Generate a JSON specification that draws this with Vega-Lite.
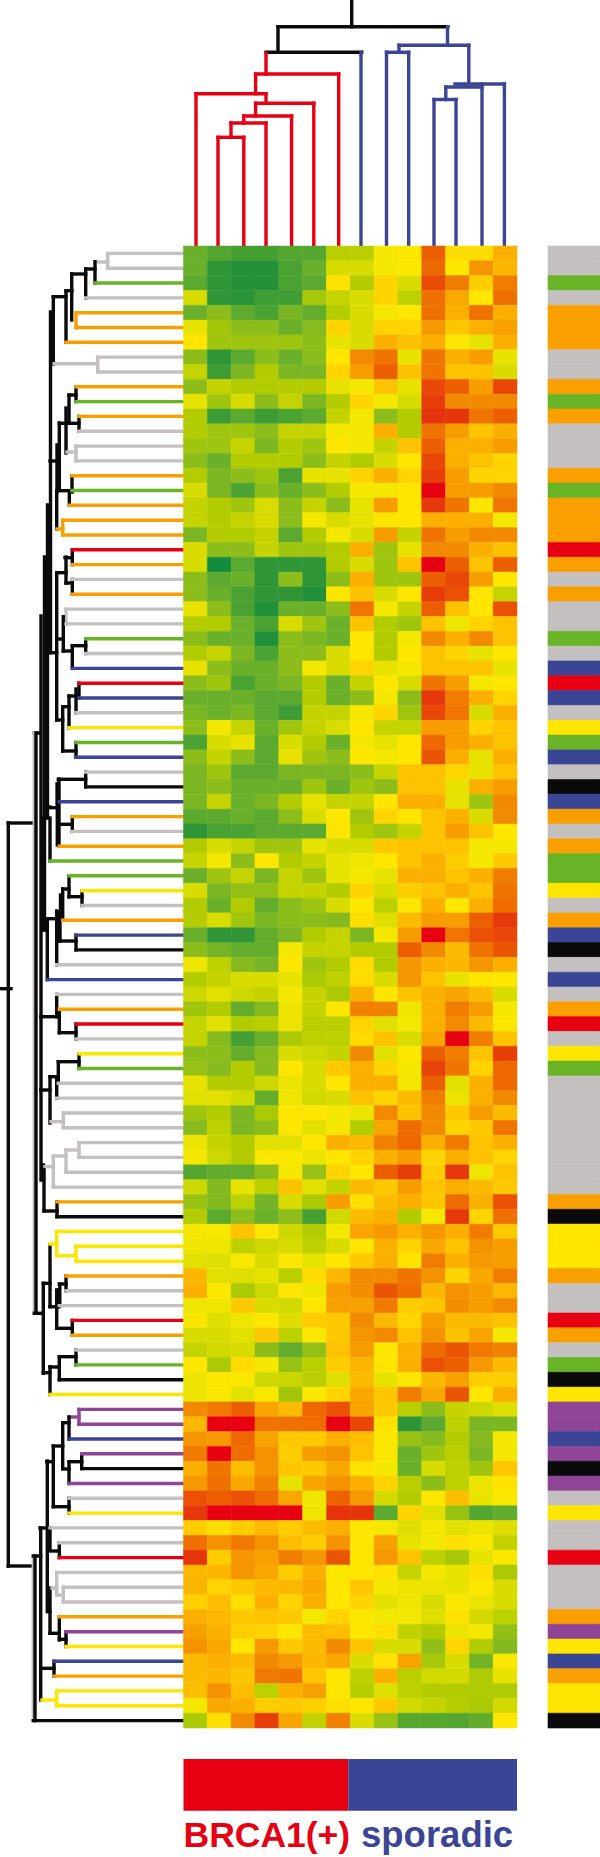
{"$schema":"https://vega.github.io/schema/vega-lite/v6.json","width":600,"height":1857,"padding":0,"autosize":"none","background":"white","datasets":{"tree":[
{"a":351.7,"b":0,"p":351.7,"q":26.7,"k":"black"},{"a":278,"b":26.7,"p":447.8,"q":26.7,"k":"black"},{"a":278,"b":26.7,"p":278,"q":52.3,"k":"black"},{"a":266,"b":52.3,"p":361.7,"q":52.3,"k":"black"},
{"a":447.5,"b":26.7,"p":447.5,"q":45.3,"k":"blue"},{"a":361,"b":52.3,"p":361,"q":246,"k":"blue"},
{"a":266,"b":53,"p":266,"q":74,"k":"red"},{"a":255.6,"b":74,"p":338.7,"q":74,"k":"red"},{"a":338.7,"b":74,"p":338.7,"q":246,"k":"red"},{"a":255.6,"b":74,"p":255.6,"q":93.7,"k":"red"},{"a":196,"b":93.7,"p":266,"q":93.7,"k":"red"},{"a":196,"b":93.7,"p":196,"q":246,"k":"red"},{"a":266,"b":93.7,"p":266,"q":103.3,"k":"red"},{"a":255.6,"b":103.3,"p":313.8,"q":103.3,"k":"red"},{"a":313.8,"b":103.3,"p":313.8,"q":246,"k":"red"},{"a":255.6,"b":103.3,"p":255.6,"q":116,"k":"red"},{"a":243.8,"b":116,"p":291.6,"q":116,"k":"red"},{"a":291.6,"b":116,"p":291.6,"q":246,"k":"red"},{"a":243.8,"b":116,"p":243.8,"q":123,"k":"red"},{"a":231,"b":123,"p":266,"q":123,"k":"red"},{"a":266,"b":123,"p":266,"q":246,"k":"red"},{"a":231,"b":123,"p":231,"q":137.3,"k":"red"},{"a":218,"b":137.3,"p":243.8,"q":137.3,"k":"red"},{"a":218,"b":137.3,"p":218,"q":246,"k":"red"},{"a":243.8,"b":137.3,"p":243.8,"q":246,"k":"red"},
{"a":399,"b":45.3,"p":468.8,"q":45.3,"k":"blue"},{"a":399,"b":45.3,"p":399,"q":52.3,"k":"blue"},{"a":386.5,"b":52.3,"p":408.7,"q":52.3,"k":"blue"},{"a":386.5,"b":52.3,"p":386.5,"q":246,"k":"blue"},{"a":408.7,"b":52.3,"p":408.7,"q":246,"k":"blue"},{"a":468.8,"b":45.3,"p":468.8,"q":84,"k":"blue"},{"a":455,"b":84,"p":504.4,"q":84,"k":"blue"},{"a":504.4,"b":84,"p":504.4,"q":246,"k":"blue"},{"a":445.8,"b":87,"p":482,"q":87,"k":"blue"},{"a":482,"b":84,"p":482,"q":246,"k":"blue"},{"a":445.8,"b":87,"p":445.8,"q":99.5,"k":"blue"},{"a":434,"b":99.5,"p":456,"q":99.5,"k":"blue"},{"a":434,"b":99.5,"p":434,"q":246,"k":"blue"},{"a":456,"b":99.5,"p":456,"q":246,"k":"blue"},
{"a":95,"b":262,"p":107.7,"q":262,"k":"gray"},{"a":107.7,"b":253.4,"p":107.7,"q":268.2,"k":"gray"},{"a":95,"b":261.7,"p":95,"q":283,"k":"black"},{"a":85.7,"b":269,"p":95,"q":269,"k":"black"},{"a":85.7,"b":269,"p":85.7,"q":297.9,"k":"black"},{"a":71.7,"b":274,"p":85.7,"q":274,"k":"black"},{"a":71.7,"b":274,"p":71.7,"q":320,"k":"black"},{"a":76,"b":312.7,"p":76,"q":327.5,"k":"orange"},{"a":66,"b":290.7,"p":72,"q":290.7,"k":"black"},{"a":66,"b":290.7,"p":66,"q":342.3,"k":"black"},{"a":53.3,"b":296.7,"p":66,"q":296.7,"k":"black"},{"a":53.3,"b":296.7,"p":53.3,"q":364,"k":"black"},{"a":54,"b":363.7,"p":97.7,"q":363.7,"k":"gray"},{"a":97.7,"b":357.1,"p":97.7,"q":372,"k":"gray"},
{"a":50.5,"b":312,"p":50.5,"q":652.7,"k":"black"},{"a":47.5,"b":505,"p":47.5,"q":818,"k":"black"},{"a":44.5,"b":557,"p":44.5,"q":930,"k":"black"},{"a":41,"b":616,"p":41,"q":1180,"k":"black"},{"a":43.5,"b":818,"p":43.5,"q":930,"k":"black"},{"a":43.5,"b":1165,"p":43.5,"q":1180,"k":"black"},{"a":46,"b":807,"p":50,"q":807,"k":"black"},
{"a":76,"b":386.8,"p":76,"q":401.6,"k":"black"},{"a":69,"b":395,"p":76,"q":395,"k":"black"},{"a":69,"b":395,"p":69,"q":421.7,"k":"black"},{"a":79,"b":416.4,"p":79,"q":431.2,"k":"black"},{"a":59.3,"b":423.3,"p":79,"q":423.3,"k":"black"},{"a":66,"b":408,"p":66,"q":453,"k":"black"},{"a":67,"b":452,"p":76,"q":452,"k":"gray"},{"a":76,"b":446.1,"p":76,"q":460.9,"k":"gray"},{"a":59.3,"b":423,"p":59.3,"q":490,"k":"black"},{"a":50,"b":461,"p":57,"q":461,"k":"black"},{"a":57,"b":445,"p":57,"q":491.7,"k":"black"},{"a":56.7,"b":491.7,"p":56.7,"q":529,"k":"black"},{"a":57,"b":490.7,"p":72,"q":490.7,"k":"black"},{"a":72,"b":475.7,"p":72,"q":492,"k":"black"},{"a":69.3,"b":490.7,"p":69.3,"q":505.3,"k":"black"},{"a":57,"b":529,"p":62.7,"q":529,"k":"orange"},{"a":62.7,"b":520.2,"p":62.7,"q":535,"k":"orange"},
{"a":72.3,"b":549.8,"p":72.3,"q":564.6,"k":"black"},{"a":65,"b":557.7,"p":72,"q":557.7,"k":"black"},{"a":72.3,"b":579.4,"p":72.3,"q":594.3,"k":"black"},{"a":66,"b":583,"p":72,"q":583,"k":"black"},{"a":66,"b":557,"p":66,"q":583,"k":"black"},{"a":56.7,"b":572.7,"p":66,"q":572.7,"k":"black"},{"a":56.7,"b":572.7,"p":56.7,"q":720,"k":"black"},{"a":66,"b":609.1,"p":66,"q":623.9,"k":"gray"},{"a":63.3,"b":616.7,"p":63.3,"q":651,"k":"black"},{"a":56.7,"b":639,"p":63.3,"q":639,"k":"black"},{"a":63.3,"b":651,"p":72.3,"q":651,"k":"black"},{"a":72.3,"b":646,"p":72.3,"q":668.4,"k":"black"},{"a":72.3,"b":645.7,"p":85.7,"q":645.7,"k":"black"},{"a":85.7,"b":638.7,"p":85.7,"q":653.5,"k":"black"},{"a":50,"b":652.7,"p":56.7,"q":652.7,"k":"black"},
{"a":79,"b":683.2,"p":79,"q":698,"k":"black"},{"a":76,"b":689,"p":76,"q":712.8,"k":"black"},{"a":69,"b":696,"p":76,"q":696,"k":"black"},{"a":69,"b":696,"p":69,"q":727.6,"k":"black"},{"a":62.7,"b":706.7,"p":69,"q":706.7,"k":"black"},{"a":62.7,"b":706.7,"p":62.7,"q":751,"k":"black"},{"a":56.7,"b":720,"p":62.7,"q":720,"k":"black"},{"a":62.7,"b":751,"p":76,"q":751,"k":"black"},{"a":76,"b":742.5,"p":76,"q":757.3,"k":"black"},
{"a":34.3,"b":733,"p":39.3,"q":733,"k":"black"},{"a":8.3,"b":823,"p":34.3,"q":823,"k":"black"},{"a":8.3,"b":823,"p":8.3,"q":1566,"k":"black"},{"a":1.5,"b":988.7,"p":11,"q":988.7,"k":"black"},{"a":34.3,"b":733,"p":34.3,"q":1313,"k":"gray"},{"a":36,"b":733,"p":36,"q":1313,"k":"black"},{"a":8.3,"b":1566,"p":33.3,"q":1566,"k":"black"},{"a":33.3,"b":1556,"p":33.3,"q":1720.6,"k":"gray"},{"a":35,"b":1556,"p":35,"q":1720.6,"k":"black"},{"a":33.3,"b":1556,"p":40.7,"q":1556,"k":"black"},{"a":34.3,"b":1313.3,"p":43.3,"q":1313.3,"k":"black"},
{"a":85.7,"b":772.1,"p":85.7,"q":786.9,"k":"black"},{"a":58.3,"b":779.3,"p":85.7,"q":779.3,"k":"black"},{"a":59,"b":779,"p":59,"q":845.7,"k":"black"},{"a":57.3,"b":784,"p":57.3,"q":845,"k":"black"},{"a":57.3,"b":784,"p":57.3,"q":803,"k":"black"},{"a":72.3,"b":816.6,"p":72.3,"q":831.4,"k":"black"},{"a":58,"b":824.3,"p":72.3,"q":824.3,"k":"black"},{"a":46.7,"b":807.7,"p":58,"q":807.7,"k":"black"},{"a":50,"b":818,"p":50,"q":861,"k":"black"},
{"a":69,"b":875.8,"p":69,"q":896.7,"k":"black"},{"a":82,"b":890.7,"p":82,"q":905.5,"k":"black"},{"a":69,"b":896.7,"p":82,"q":896.7,"k":"black"},{"a":62.7,"b":889,"p":69,"q":889,"k":"black"},{"a":62.7,"b":889,"p":62.7,"q":920,"k":"black"},{"a":60.5,"b":895,"p":60.5,"q":920,"k":"black"},{"a":58.3,"b":911.7,"p":58.3,"q":941,"k":"black"},{"a":60,"b":911.7,"p":60,"q":941,"k":"black"},{"a":58.3,"b":941,"p":76,"q":941,"k":"black"},{"a":76,"b":935.1,"p":76,"q":949.9,"k":"black"},{"a":56.7,"b":911,"p":56.7,"q":964.8,"k":"black"},{"a":45,"b":918.7,"p":58,"q":918.7,"k":"black"},{"a":47.3,"b":920,"p":47.3,"q":979.6,"k":"black"},
{"a":56.7,"b":994.4,"p":56.7,"q":1016.7,"k":"black"},{"a":59.3,"b":1010,"p":59.3,"q":1032.7,"k":"black"},{"a":59.3,"b":1032.7,"p":76,"q":1032.7,"k":"black"},{"a":76,"b":1024,"p":76,"q":1038.9,"k":"black"},{"a":40.7,"b":1016.7,"p":56.7,"q":1016.7,"k":"black"},
{"a":79,"b":1053.7,"p":79,"q":1068.5,"k":"black"},{"a":58.3,"b":1061.7,"p":79,"q":1061.7,"k":"black"},{"a":58.3,"b":1061.7,"p":58.3,"q":1083.3,"k":"black"},{"a":56.7,"b":1076.7,"p":56.7,"q":1098.1,"k":"black"},{"a":50,"b":1076.7,"p":57,"q":1076.7,"k":"black"},{"a":50,"b":1076.7,"p":50,"q":1123,"k":"black"},{"a":40.7,"b":1090,"p":50,"q":1090,"k":"black"},{"a":51,"b":1121.7,"p":63.3,"q":1121.7,"k":"gray"},{"a":63.3,"b":1113,"p":63.3,"q":1127.8,"k":"gray"},
{"a":79,"b":1142.6,"p":79,"q":1157.4,"k":"gray"},{"a":66,"b":1150,"p":79,"q":1150,"k":"gray"},{"a":66,"b":1150,"p":66,"q":1172.2,"k":"gray"},{"a":53.3,"b":1156,"p":66,"q":1156,"k":"gray"},{"a":53.3,"b":1156,"p":53.3,"q":1187.1,"k":"gray"},{"a":45,"b":1166.7,"p":53.3,"q":1166.7,"k":"gray"},
{"a":44,"b":1170,"p":44,"q":1211,"k":"black"},{"a":44,"b":1211,"p":57,"q":1211,"k":"black"},{"a":57,"b":1201.9,"p":57,"q":1216.7,"k":"black"},
{"a":43.3,"b":1283.3,"p":43.3,"q":1373.3,"k":"black"},{"a":43.3,"b":1283.3,"p":50,"q":1283.3,"k":"black"},{"a":50,"b":1245,"p":50,"q":1306.7,"k":"black"},{"a":50,"b":1244,"p":56.7,"q":1244,"k":"yellow"},{"a":56.7,"b":1231.5,"p":56.7,"q":1255.7,"k":"yellow"},{"a":56.7,"b":1255.7,"p":76,"q":1255.7,"k":"yellow"},{"a":76,"b":1246.3,"p":76,"q":1261.2,"k":"yellow"},
{"a":50,"b":1306.7,"p":58,"q":1306.7,"k":"black"},{"a":58.3,"b":1290,"p":58.3,"q":1306.7,"k":"black"},{"a":59.3,"b":1284,"p":66,"q":1284,"k":"black"},{"a":66,"b":1276,"p":66,"q":1290.8,"k":"black"},{"a":59.8,"b":1284,"p":59.8,"q":1306,"k":"black"},{"a":56.7,"b":1290,"p":56.7,"q":1328.3,"k":"black"},{"a":56.7,"b":1328.3,"p":72.3,"q":1328.3,"k":"black"},{"a":72.3,"b":1320.4,"p":72.3,"q":1335.3,"k":"black"},
{"a":43.3,"b":1372.7,"p":50,"q":1372.7,"k":"black"},{"a":50,"b":1366.7,"p":50,"q":1394.5,"k":"black"},{"a":50,"b":1367,"p":59.3,"q":1367,"k":"black"},{"a":59.3,"b":1356.7,"p":59.3,"q":1379.7,"k":"black"},{"a":59.3,"b":1356.7,"p":76,"q":1356.7,"k":"black"},{"a":76,"b":1350.1,"p":76,"q":1364.9,"k":"black"},
{"a":79,"b":1409.4,"p":79,"q":1424.2,"k":"purple"},{"a":69,"b":1417,"p":79,"q":1417,"k":"purple"},{"a":69,"b":1417,"p":69,"q":1439,"k":"black"},{"a":62.7,"b":1422.7,"p":69,"q":1422.7,"k":"black"},{"a":62.7,"b":1422.7,"p":62.7,"q":1468,"k":"black"},{"a":53.3,"b":1446,"p":62.7,"q":1446,"k":"black"},{"a":53.3,"b":1446,"p":53.3,"q":1506.7,"k":"black"},{"a":81.7,"b":1453.8,"p":81.7,"q":1468.6,"k":"black"},{"a":69,"b":1461.7,"p":81.7,"q":1461.7,"k":"black"},{"a":69,"b":1461.7,"p":69,"q":1483.5,"k":"black"},{"a":62.7,"b":1469,"p":69,"q":1469,"k":"black"},{"a":53.3,"b":1506.7,"p":69,"q":1506.7,"k":"black"},{"a":69,"b":1498.3,"p":69,"q":1513.1,"k":"black"},{"a":46.7,"b":1461.7,"p":53.3,"q":1461.7,"k":"black"},{"a":47.3,"b":1461,"p":47.3,"q":1611.7,"k":"black"},{"a":50,"b":1528,"p":50,"q":1550,"k":"black"},{"a":50,"b":1588,"p":50,"q":1611.7,"k":"black"},{"a":59.3,"b":1542.7,"p":59.3,"q":1557.6,"k":"black"},{"a":50,"b":1551,"p":59.3,"q":1551,"k":"black"},{"a":40,"b":1528,"p":47.3,"q":1528,"k":"black"},{"a":40.7,"b":1528,"p":40.7,"q":1700,"k":"black"},
{"a":56.7,"b":1572.4,"p":56.7,"q":1595,"k":"gray"},{"a":52,"b":1588,"p":56.7,"q":1588,"k":"gray"},{"a":56.7,"b":1595,"p":63.3,"q":1595,"k":"gray"},{"a":63.3,"b":1587.2,"p":63.3,"q":1602,"k":"gray"},{"a":50,"b":1611.7,"p":50,"q":1633.3,"k":"black"},{"a":50,"b":1633.3,"p":59.3,"q":1633.3,"k":"black"},{"a":59.3,"b":1616.8,"p":59.3,"q":1640,"k":"black"},{"a":59.3,"b":1639.3,"p":66,"q":1639.3,"k":"black"},{"a":66,"b":1631.7,"p":66,"q":1646.5,"k":"black"},{"a":40.7,"b":1668.3,"p":54,"q":1668.3,"k":"black"},{"a":54,"b":1661.3,"p":54,"q":1676.1,"k":"black"},{"a":42,"b":1700,"p":56.7,"q":1700,"k":"yellow"},{"a":56.7,"b":1690.9,"p":56.7,"q":1705.8,"k":"yellow"},
{"r":1,"a":107.7,"b":253.4,"p":183.5,"q":253.4,"k":"gray"},{"r":2,"a":107.7,"b":268.2,"p":183.5,"q":268.2,"k":"gray"},{"r":3,"a":95,"b":283,"p":183.5,"q":283,"k":"green"},{"r":4,"a":85.7,"b":297.9,"p":183.5,"q":297.9,"k":"gray"},{"r":5,"a":76,"b":312.7,"p":183.5,"q":312.7,"k":"orange"},{"r":6,"a":76,"b":327.5,"p":183.5,"q":327.5,"k":"orange"},{"r":7,"a":66,"b":342.3,"p":183.5,"q":342.3,"k":"orange"},{"r":8,"a":97.7,"b":357.1,"p":183.5,"q":357.1,"k":"gray"},{"r":9,"a":97.7,"b":372,"p":183.5,"q":372,"k":"gray"},{"r":10,"a":76,"b":386.8,"p":183.5,"q":386.8,"k":"orange"},
{"r":11,"a":76,"b":401.6,"p":183.5,"q":401.6,"k":"green"},{"r":12,"a":79,"b":416.4,"p":183.5,"q":416.4,"k":"orange"},{"r":13,"a":79,"b":431.2,"p":183.5,"q":431.2,"k":"gray"},{"r":14,"a":76,"b":446.1,"p":183.5,"q":446.1,"k":"gray"},{"r":15,"a":76,"b":460.9,"p":183.5,"q":460.9,"k":"gray"},{"r":16,"a":72,"b":475.7,"p":183.5,"q":475.7,"k":"orange"},{"r":17,"a":72,"b":490.5,"p":183.5,"q":490.5,"k":"green"},{"r":18,"a":69.3,"b":505.3,"p":183.5,"q":505.3,"k":"orange"},{"r":19,"a":62.7,"b":520.2,"p":183.5,"q":520.2,"k":"orange"},{"r":20,"a":62.7,"b":535,"p":183.5,"q":535,"k":"orange"},
{"r":21,"a":72.3,"b":549.8,"p":183.5,"q":549.8,"k":"red"},{"r":22,"a":72.3,"b":564.6,"p":183.5,"q":564.6,"k":"orange"},{"r":23,"a":72.3,"b":579.4,"p":183.5,"q":579.4,"k":"gray"},{"r":24,"a":72.3,"b":594.3,"p":183.5,"q":594.3,"k":"orange"},{"r":25,"a":66,"b":609.1,"p":183.5,"q":609.1,"k":"gray"},{"r":26,"a":66,"b":623.9,"p":183.5,"q":623.9,"k":"gray"},{"r":27,"a":85.7,"b":638.7,"p":183.5,"q":638.7,"k":"green"},{"r":28,"a":85.7,"b":653.5,"p":183.5,"q":653.5,"k":"gray"},{"r":29,"a":72.3,"b":668.4,"p":183.5,"q":668.4,"k":"blue"},{"r":30,"a":79,"b":683.2,"p":183.5,"q":683.2,"k":"red"},
{"r":31,"a":79,"b":698,"p":183.5,"q":698,"k":"blue"},{"r":32,"a":76,"b":712.8,"p":183.5,"q":712.8,"k":"gray"},{"r":33,"a":69,"b":727.6,"p":183.5,"q":727.6,"k":"yellow"},{"r":34,"a":76,"b":742.5,"p":183.5,"q":742.5,"k":"green"},{"r":35,"a":76,"b":757.3,"p":183.5,"q":757.3,"k":"blue"},{"r":36,"a":85.7,"b":772.1,"p":183.5,"q":772.1,"k":"gray"},{"r":37,"a":85.7,"b":786.9,"p":183.5,"q":786.9,"k":"black"},{"r":38,"a":59.3,"b":801.7,"p":183.5,"q":801.7,"k":"blue"},{"r":39,"a":72.3,"b":816.6,"p":183.5,"q":816.6,"k":"orange"},{"r":40,"a":72.3,"b":831.4,"p":183.5,"q":831.4,"k":"gray"},
{"r":41,"a":59.3,"b":846.2,"p":183.5,"q":846.2,"k":"orange"},{"r":42,"a":50,"b":861,"p":183.5,"q":861,"k":"green"},{"r":43,"a":69,"b":875.8,"p":183.5,"q":875.8,"k":"green"},{"r":44,"a":82,"b":890.7,"p":183.5,"q":890.7,"k":"yellow"},{"r":45,"a":82,"b":905.5,"p":183.5,"q":905.5,"k":"gray"},{"r":46,"a":62.7,"b":920.3,"p":183.5,"q":920.3,"k":"orange"},{"r":47,"a":76,"b":935.1,"p":183.5,"q":935.1,"k":"blue"},{"r":48,"a":76,"b":949.9,"p":183.5,"q":949.9,"k":"black"},{"r":49,"a":56.7,"b":964.8,"p":183.5,"q":964.8,"k":"gray"},{"r":50,"a":47.3,"b":979.6,"p":183.5,"q":979.6,"k":"blue"},
{"r":51,"a":56.7,"b":994.4,"p":183.5,"q":994.4,"k":"gray"},{"r":52,"a":59.3,"b":1009.2,"p":183.5,"q":1009.2,"k":"orange"},{"r":53,"a":76,"b":1024,"p":183.5,"q":1024,"k":"red"},{"r":54,"a":76,"b":1038.9,"p":183.5,"q":1038.9,"k":"gray"},{"r":55,"a":79,"b":1053.7,"p":183.5,"q":1053.7,"k":"yellow"},{"r":56,"a":79,"b":1068.5,"p":183.5,"q":1068.5,"k":"green"},{"r":57,"a":58.3,"b":1083.3,"p":183.5,"q":1083.3,"k":"gray"},{"r":58,"a":56.7,"b":1098.1,"p":183.5,"q":1098.1,"k":"gray"},{"r":59,"a":63.3,"b":1113,"p":183.5,"q":1113,"k":"gray"},{"r":60,"a":63.3,"b":1127.8,"p":183.5,"q":1127.8,"k":"gray"},
{"r":61,"a":79,"b":1142.6,"p":183.5,"q":1142.6,"k":"gray"},{"r":62,"a":79,"b":1157.4,"p":183.5,"q":1157.4,"k":"gray"},{"r":63,"a":66,"b":1172.2,"p":183.5,"q":1172.2,"k":"gray"},{"r":64,"a":53.3,"b":1187.1,"p":183.5,"q":1187.1,"k":"gray"},{"r":65,"a":57,"b":1201.9,"p":183.5,"q":1201.9,"k":"orange"},{"r":66,"a":57,"b":1216.7,"p":183.5,"q":1216.7,"k":"black"},{"r":67,"a":56.7,"b":1231.5,"p":183.5,"q":1231.5,"k":"yellow"},{"r":68,"a":76,"b":1246.3,"p":183.5,"q":1246.3,"k":"yellow"},{"r":69,"a":76,"b":1261.2,"p":183.5,"q":1261.2,"k":"yellow"},{"r":70,"a":66,"b":1276,"p":183.5,"q":1276,"k":"orange"},
{"r":71,"a":66,"b":1290.8,"p":183.5,"q":1290.8,"k":"gray"},{"r":72,"a":59.3,"b":1305.6,"p":183.5,"q":1305.6,"k":"gray"},{"r":73,"a":72.3,"b":1320.4,"p":183.5,"q":1320.4,"k":"red"},{"r":74,"a":72.3,"b":1335.3,"p":183.5,"q":1335.3,"k":"orange"},{"r":75,"a":76,"b":1350.1,"p":183.5,"q":1350.1,"k":"gray"},{"r":76,"a":76,"b":1364.9,"p":183.5,"q":1364.9,"k":"green"},{"r":77,"a":59.3,"b":1379.7,"p":183.5,"q":1379.7,"k":"black"},{"r":78,"a":50,"b":1394.5,"p":183.5,"q":1394.5,"k":"yellow"},{"r":79,"a":79,"b":1409.4,"p":183.5,"q":1409.4,"k":"purple"},{"r":80,"a":79,"b":1424.2,"p":183.5,"q":1424.2,"k":"purple"},
{"r":81,"a":69,"b":1439,"p":183.5,"q":1439,"k":"blue"},{"r":82,"a":81.7,"b":1453.8,"p":183.5,"q":1453.8,"k":"purple"},{"r":83,"a":81.7,"b":1468.6,"p":183.5,"q":1468.6,"k":"black"},{"r":84,"a":69,"b":1483.5,"p":183.5,"q":1483.5,"k":"purple"},{"r":85,"a":69,"b":1498.3,"p":183.5,"q":1498.3,"k":"gray"},{"r":86,"a":69,"b":1513.1,"p":183.5,"q":1513.1,"k":"yellow"},{"r":87,"a":50,"b":1527.9,"p":183.5,"q":1527.9,"k":"gray"},{"r":88,"a":59.3,"b":1542.7,"p":183.5,"q":1542.7,"k":"gray"},{"r":89,"a":59.3,"b":1557.6,"p":183.5,"q":1557.6,"k":"red"},{"r":90,"a":56.7,"b":1572.4,"p":183.5,"q":1572.4,"k":"gray"},
{"r":91,"a":63.3,"b":1587.2,"p":183.5,"q":1587.2,"k":"gray"},{"r":92,"a":63.3,"b":1602,"p":183.5,"q":1602,"k":"gray"},{"r":93,"a":59.3,"b":1616.8,"p":183.5,"q":1616.8,"k":"orange"},{"r":94,"a":66,"b":1631.7,"p":183.5,"q":1631.7,"k":"purple"},{"r":95,"a":66,"b":1646.5,"p":183.5,"q":1646.5,"k":"yellow"},{"r":96,"a":54,"b":1661.3,"p":183.5,"q":1661.3,"k":"blue"},{"r":97,"a":54,"b":1676.1,"p":183.5,"q":1676.1,"k":"orange"},{"r":98,"a":56.7,"b":1690.9,"p":183.5,"q":1690.9,"k":"yellow"},{"r":99,"a":56.7,"b":1705.8,"p":183.5,"q":1705.8,"k":"yellow"},{"r":100,"a":33.3,"b":1720.6,"p":183.5,"q":1720.6,"k":"black"}
],"heat":[
{"r":1,"c":1,"v":3},{"r":1,"c":2,"v":2.3},{"r":1,"c":3,"v":1.8},{"r":1,"c":4,"v":1.8},{"r":1,"c":5,"v":2.3},{"r":1,"c":6,"v":2.3},{"r":1,"c":7,"v":5.2},{"r":1,"c":8,"v":5.2},{"r":1,"c":9,"v":7},{"r":1,"c":10,"v":7.3},{"r":1,"c":11,"v":11},{"r":1,"c":12,"v":7.8},{"r":1,"c":13,"v":7.8},{"r":1,"c":14,"v":9},
{"r":2,"c":1,"v":3},{"r":2,"c":2,"v":1},{"r":2,"c":3,"v":0.6},{"r":2,"c":4,"v":0.6},{"r":2,"c":5,"v":2},{"r":2,"c":6,"v":3},{"r":2,"c":7,"v":6},{"r":2,"c":8,"v":6},{"r":2,"c":9,"v":7},{"r":2,"c":10,"v":7.3},{"r":2,"c":11,"v":10.8},{"r":2,"c":12,"v":7.3},{"r":2,"c":13,"v":9.7},{"r":2,"c":14,"v":8.8},
{"r":3,"c":1,"v":2.5},{"r":3,"c":2,"v":1},{"r":3,"c":3,"v":0.6},{"r":3,"c":4,"v":0.6},{"r":3,"c":5,"v":2},{"r":3,"c":6,"v":2.5},{"r":3,"c":7,"v":7.6},{"r":3,"c":8,"v":5},{"r":3,"c":9,"v":8},{"r":3,"c":10,"v":6},{"r":3,"c":11,"v":11.4},{"r":3,"c":12,"v":10.3},{"r":3,"c":13,"v":8.2},{"r":3,"c":14,"v":10.3},
{"r":4,"c":1,"v":6},{"r":4,"c":2,"v":1},{"r":4,"c":3,"v":0.8},{"r":4,"c":4,"v":1.6},{"r":4,"c":5,"v":1.6},{"r":4,"c":6,"v":4.7},{"r":4,"c":7,"v":5.5},{"r":4,"c":8,"v":6},{"r":4,"c":9,"v":8},{"r":4,"c":10,"v":5.3},{"r":4,"c":11,"v":10.6},{"r":4,"c":12,"v":9.2},{"r":4,"c":13,"v":7.4},{"r":4,"c":14,"v":10.6},
{"r":5,"c":1,"v":3},{"r":5,"c":2,"v":4},{"r":5,"c":3,"v":2.6},{"r":5,"c":4,"v":2},{"r":5,"c":5,"v":3.4},{"r":5,"c":6,"v":2.8},{"r":5,"c":7,"v":5},{"r":5,"c":8,"v":6},{"r":5,"c":9,"v":7},{"r":5,"c":10,"v":7.4},{"r":5,"c":11,"v":10.6},{"r":5,"c":12,"v":9},{"r":5,"c":13,"v":10.6},{"r":5,"c":14,"v":9},
{"r":6,"c":1,"v":6.6},{"r":6,"c":2,"v":4.6},{"r":6,"c":3,"v":4},{"r":6,"c":4,"v":4},{"r":6,"c":5,"v":3},{"r":6,"c":6,"v":3.8},{"r":6,"c":7,"v":8},{"r":6,"c":8,"v":6},{"r":6,"c":9,"v":8},{"r":6,"c":10,"v":8},{"r":6,"c":11,"v":9.6},{"r":6,"c":12,"v":8.4},{"r":6,"c":13,"v":9},{"r":6,"c":14,"v":9.4},
{"r":7,"c":1,"v":7.5},{"r":7,"c":2,"v":4.5},{"r":7,"c":3,"v":4.5},{"r":7,"c":4,"v":4.5},{"r":7,"c":5,"v":4.5},{"r":7,"c":6,"v":4},{"r":7,"c":7,"v":6.5},{"r":7,"c":8,"v":6},{"r":7,"c":9,"v":9},{"r":7,"c":10,"v":8.5},{"r":7,"c":11,"v":9},{"r":7,"c":12,"v":7.5},{"r":7,"c":13,"v":6.5},{"r":7,"c":14,"v":9},
{"r":8,"c":1,"v":4},{"r":8,"c":2,"v":1},{"r":8,"c":3,"v":2.5},{"r":8,"c":4,"v":4},{"r":8,"c":5,"v":3},{"r":8,"c":6,"v":4},{"r":8,"c":7,"v":7.5},{"r":8,"c":8,"v":10},{"r":8,"c":9,"v":10.5},{"r":8,"c":10,"v":6.5},{"r":8,"c":11,"v":10.5},{"r":8,"c":12,"v":9},{"r":8,"c":13,"v":9.5},{"r":8,"c":14,"v":6.5},
{"r":9,"c":1,"v":5.5},{"r":9,"c":2,"v":1.5},{"r":9,"c":3,"v":3.5},{"r":9,"c":4,"v":5},{"r":9,"c":5,"v":3.5},{"r":9,"c":6,"v":3.5},{"r":9,"c":7,"v":8},{"r":9,"c":8,"v":9.5},{"r":9,"c":9,"v":11},{"r":9,"c":10,"v":8.5},{"r":9,"c":11,"v":10.5},{"r":9,"c":12,"v":8.5},{"r":9,"c":13,"v":8.5},{"r":9,"c":14,"v":6},
{"r":10,"c":1,"v":4},{"r":10,"c":2,"v":5.5},{"r":10,"c":3,"v":5},{"r":10,"c":4,"v":5},{"r":10,"c":5,"v":5},{"r":10,"c":6,"v":5},{"r":10,"c":7,"v":6.5},{"r":10,"c":8,"v":7},{"r":10,"c":9,"v":8.5},{"r":10,"c":10,"v":6.5},{"r":10,"c":11,"v":11.5},{"r":10,"c":12,"v":11},{"r":10,"c":13,"v":9.5},{"r":10,"c":14,"v":11.5},
{"r":11,"c":1,"v":6.5},{"r":11,"c":2,"v":4.5},{"r":11,"c":3,"v":6},{"r":11,"c":4,"v":4},{"r":11,"c":5,"v":5.5},{"r":11,"c":6,"v":3.5},{"r":11,"c":7,"v":5},{"r":11,"c":8,"v":8},{"r":11,"c":9,"v":7},{"r":11,"c":10,"v":6},{"r":11,"c":11,"v":11.7},{"r":11,"c":12,"v":10},{"r":11,"c":13,"v":10},{"r":11,"c":14,"v":10},
{"r":12,"c":1,"v":5},{"r":12,"c":2,"v":1.5},{"r":12,"c":3,"v":2.5},{"r":12,"c":4,"v":1.5},{"r":12,"c":5,"v":2},{"r":12,"c":6,"v":2.5},{"r":12,"c":7,"v":5.5},{"r":12,"c":8,"v":7},{"r":12,"c":9,"v":4},{"r":12,"c":10,"v":5},{"r":12,"c":11,"v":11.9},{"r":12,"c":12,"v":11.9},{"r":12,"c":13,"v":10.5},{"r":12,"c":14,"v":11},
{"r":13,"c":1,"v":5},{"r":13,"c":2,"v":4.5},{"r":13,"c":3,"v":4.5},{"r":13,"c":4,"v":4},{"r":13,"c":5,"v":5.5},{"r":13,"c":6,"v":5.5},{"r":13,"c":7,"v":7},{"r":13,"c":8,"v":7},{"r":13,"c":9,"v":9},{"r":13,"c":10,"v":5},{"r":13,"c":11,"v":10.5},{"r":13,"c":12,"v":9.5},{"r":13,"c":13,"v":8.5},{"r":13,"c":14,"v":9},
{"r":14,"c":1,"v":4.5},{"r":14,"c":2,"v":4.5},{"r":14,"c":3,"v":5.5},{"r":14,"c":4,"v":3.5},{"r":14,"c":5,"v":5},{"r":14,"c":6,"v":4.5},{"r":14,"c":7,"v":7.5},{"r":14,"c":8,"v":7},{"r":14,"c":9,"v":5.5},{"r":14,"c":10,"v":8.5},{"r":14,"c":11,"v":11},{"r":14,"c":12,"v":9},{"r":14,"c":13,"v":9},{"r":14,"c":14,"v":9.5},
{"r":15,"c":1,"v":4},{"r":15,"c":2,"v":3},{"r":15,"c":3,"v":5},{"r":15,"c":4,"v":5},{"r":15,"c":5,"v":5},{"r":15,"c":6,"v":4},{"r":15,"c":7,"v":5.5},{"r":15,"c":8,"v":5},{"r":15,"c":9,"v":6},{"r":15,"c":10,"v":7.5},{"r":15,"c":11,"v":11.5},{"r":15,"c":12,"v":9},{"r":15,"c":13,"v":8.5},{"r":15,"c":14,"v":8},
{"r":16,"c":1,"v":5},{"r":16,"c":2,"v":3.5},{"r":16,"c":3,"v":4},{"r":16,"c":4,"v":4.5},{"r":16,"c":5,"v":2},{"r":16,"c":6,"v":6.5},{"r":16,"c":7,"v":6.5},{"r":16,"c":8,"v":8},{"r":16,"c":9,"v":9},{"r":16,"c":10,"v":8},{"r":16,"c":11,"v":11.7},{"r":16,"c":12,"v":9.5},{"r":16,"c":13,"v":8},{"r":16,"c":14,"v":8},
{"r":17,"c":1,"v":6},{"r":17,"c":2,"v":3.5},{"r":17,"c":3,"v":2},{"r":17,"c":4,"v":4},{"r":17,"c":5,"v":3},{"r":17,"c":6,"v":4},{"r":17,"c":7,"v":5},{"r":17,"c":8,"v":7},{"r":17,"c":9,"v":7},{"r":17,"c":10,"v":7.5},{"r":17,"c":11,"v":12},{"r":17,"c":12,"v":9.5},{"r":17,"c":13,"v":9.5},{"r":17,"c":14,"v":10},
{"r":18,"c":1,"v":5.5},{"r":18,"c":2,"v":5},{"r":18,"c":3,"v":4.5},{"r":18,"c":4,"v":6},{"r":18,"c":5,"v":4},{"r":18,"c":6,"v":5.5},{"r":18,"c":7,"v":4},{"r":18,"c":8,"v":6.5},{"r":18,"c":9,"v":9.5},{"r":18,"c":10,"v":7.5},{"r":18,"c":11,"v":11.8},{"r":18,"c":12,"v":10.5},{"r":18,"c":13,"v":7.5},{"r":18,"c":14,"v":10.5},
{"r":19,"c":1,"v":5.5},{"r":19,"c":2,"v":5},{"r":19,"c":3,"v":5.5},{"r":19,"c":4,"v":6},{"r":19,"c":5,"v":4},{"r":19,"c":6,"v":7},{"r":19,"c":7,"v":6},{"r":19,"c":8,"v":6.5},{"r":19,"c":9,"v":7.5},{"r":19,"c":10,"v":7.5},{"r":19,"c":11,"v":9},{"r":19,"c":12,"v":9},{"r":19,"c":13,"v":9},{"r":19,"c":14,"v":7},
{"r":20,"c":1,"v":3.5},{"r":20,"c":2,"v":5},{"r":20,"c":3,"v":5},{"r":20,"c":4,"v":5.5},{"r":20,"c":5,"v":2.5},{"r":20,"c":6,"v":5},{"r":20,"c":7,"v":7},{"r":20,"c":8,"v":6},{"r":20,"c":9,"v":9.5},{"r":20,"c":10,"v":5.5},{"r":20,"c":11,"v":10.5},{"r":20,"c":12,"v":9.5},{"r":20,"c":13,"v":10},{"r":20,"c":14,"v":10},
{"r":21,"c":1,"v":6},{"r":21,"c":2,"v":4},{"r":21,"c":3,"v":4},{"r":21,"c":4,"v":5.5},{"r":21,"c":5,"v":4.5},{"r":21,"c":6,"v":4.5},{"r":21,"c":7,"v":5},{"r":21,"c":8,"v":9},{"r":21,"c":9,"v":4.5},{"r":21,"c":10,"v":6.5},{"r":21,"c":11,"v":10},{"r":21,"c":12,"v":10},{"r":21,"c":13,"v":9},{"r":21,"c":14,"v":8.5},
{"r":22,"c":1,"v":6},{"r":22,"c":2,"v":0},{"r":22,"c":3,"v":2.5},{"r":22,"c":4,"v":1},{"r":22,"c":5,"v":1},{"r":22,"c":6,"v":1},{"r":22,"c":7,"v":5},{"r":22,"c":8,"v":6},{"r":22,"c":9,"v":4.5},{"r":22,"c":10,"v":8.5},{"r":22,"c":11,"v":12},{"r":22,"c":12,"v":11},{"r":22,"c":13,"v":8.5},{"r":22,"c":14,"v":11},
{"r":23,"c":1,"v":4},{"r":23,"c":2,"v":2.5},{"r":23,"c":3,"v":3},{"r":23,"c":4,"v":1},{"r":23,"c":5,"v":4},{"r":23,"c":6,"v":1},{"r":23,"c":7,"v":4},{"r":23,"c":8,"v":9},{"r":23,"c":9,"v":4.5},{"r":23,"c":10,"v":4.5},{"r":23,"c":11,"v":11},{"r":23,"c":12,"v":11.5},{"r":23,"c":13,"v":9.5},{"r":23,"c":14,"v":7.5},
{"r":24,"c":1,"v":4},{"r":24,"c":2,"v":3},{"r":24,"c":3,"v":2},{"r":24,"c":4,"v":1},{"r":24,"c":5,"v":1},{"r":24,"c":6,"v":0.5},{"r":24,"c":7,"v":7.5},{"r":24,"c":8,"v":8.5},{"r":24,"c":9,"v":6},{"r":24,"c":10,"v":7.5},{"r":24,"c":11,"v":11.7},{"r":24,"c":12,"v":11.3},{"r":24,"c":13,"v":7.5},{"r":24,"c":14,"v":5.5},
{"r":25,"c":1,"v":6.5},{"r":25,"c":2,"v":4},{"r":25,"c":3,"v":2},{"r":25,"c":4,"v":0.5},{"r":25,"c":5,"v":3},{"r":25,"c":6,"v":3},{"r":25,"c":7,"v":4},{"r":25,"c":8,"v":10.5},{"r":25,"c":9,"v":7},{"r":25,"c":10,"v":5.5},{"r":25,"c":11,"v":11},{"r":25,"c":12,"v":8.5},{"r":25,"c":13,"v":7.5},{"r":25,"c":14,"v":11.3},
{"r":26,"c":1,"v":5},{"r":26,"c":2,"v":5},{"r":26,"c":3,"v":3},{"r":26,"c":4,"v":2},{"r":26,"c":5,"v":6},{"r":26,"c":6,"v":4.5},{"r":26,"c":7,"v":3},{"r":26,"c":8,"v":8.5},{"r":26,"c":9,"v":5},{"r":26,"c":10,"v":4.5},{"r":26,"c":11,"v":8.5},{"r":26,"c":12,"v":6.8},{"r":26,"c":13,"v":8},{"r":26,"c":14,"v":8.5},
{"r":27,"c":1,"v":4},{"r":27,"c":2,"v":3},{"r":27,"c":3,"v":3},{"r":27,"c":4,"v":0.5},{"r":27,"c":5,"v":4},{"r":27,"c":6,"v":3.5},{"r":27,"c":7,"v":3},{"r":27,"c":8,"v":7.5},{"r":27,"c":9,"v":5},{"r":27,"c":10,"v":7},{"r":27,"c":11,"v":10},{"r":27,"c":12,"v":9},{"r":27,"c":13,"v":10},{"r":27,"c":14,"v":8.5},
{"r":28,"c":1,"v":5},{"r":28,"c":2,"v":5.5},{"r":28,"c":3,"v":3.5},{"r":28,"c":4,"v":2},{"r":28,"c":5,"v":4},{"r":28,"c":6,"v":4},{"r":28,"c":7,"v":6},{"r":28,"c":8,"v":7.5},{"r":28,"c":9,"v":5},{"r":28,"c":10,"v":7.5},{"r":28,"c":11,"v":8.5},{"r":28,"c":12,"v":8},{"r":28,"c":13,"v":6.5},{"r":28,"c":14,"v":7.5},
{"r":29,"c":1,"v":6.5},{"r":29,"c":2,"v":4},{"r":29,"c":3,"v":3},{"r":29,"c":4,"v":3},{"r":29,"c":5,"v":4},{"r":29,"c":6,"v":7},{"r":29,"c":7,"v":6},{"r":29,"c":8,"v":8},{"r":29,"c":9,"v":6.5},{"r":29,"c":10,"v":7},{"r":29,"c":11,"v":8.5},{"r":29,"c":12,"v":8.5},{"r":29,"c":13,"v":8.5},{"r":29,"c":14,"v":6.5},
{"r":30,"c":1,"v":4},{"r":30,"c":2,"v":4.5},{"r":30,"c":3,"v":2},{"r":30,"c":4,"v":3},{"r":30,"c":5,"v":3.5},{"r":30,"c":6,"v":5},{"r":30,"c":7,"v":3},{"r":30,"c":8,"v":5.5},{"r":30,"c":9,"v":7.5},{"r":30,"c":10,"v":6},{"r":30,"c":11,"v":10.5},{"r":30,"c":12,"v":9.5},{"r":30,"c":13,"v":7},{"r":30,"c":14,"v":7.5},
{"r":31,"c":1,"v":3},{"r":31,"c":2,"v":3},{"r":31,"c":3,"v":3},{"r":31,"c":4,"v":2.5},{"r":31,"c":5,"v":2.5},{"r":31,"c":6,"v":5},{"r":31,"c":7,"v":3},{"r":31,"c":8,"v":4},{"r":31,"c":9,"v":7},{"r":31,"c":10,"v":4},{"r":31,"c":11,"v":11.8},{"r":31,"c":12,"v":10.3},{"r":31,"c":13,"v":9},{"r":31,"c":14,"v":8},
{"r":32,"c":1,"v":3.5},{"r":32,"c":2,"v":3},{"r":32,"c":3,"v":3.5},{"r":32,"c":4,"v":2.5},{"r":32,"c":5,"v":1.5},{"r":32,"c":6,"v":5.5},{"r":32,"c":7,"v":5.5},{"r":32,"c":8,"v":7},{"r":32,"c":9,"v":8},{"r":32,"c":10,"v":4.5},{"r":32,"c":11,"v":11.5},{"r":32,"c":12,"v":10.5},{"r":32,"c":13,"v":6},{"r":32,"c":14,"v":9},
{"r":33,"c":1,"v":4},{"r":33,"c":2,"v":7},{"r":33,"c":3,"v":5.5},{"r":33,"c":4,"v":3},{"r":33,"c":5,"v":4.5},{"r":33,"c":6,"v":5.5},{"r":33,"c":7,"v":6},{"r":33,"c":8,"v":7.5},{"r":33,"c":9,"v":5.5},{"r":33,"c":10,"v":5.5},{"r":33,"c":11,"v":9.5},{"r":33,"c":12,"v":9.5},{"r":33,"c":13,"v":8},{"r":33,"c":14,"v":8.5},
{"r":34,"c":1,"v":2},{"r":34,"c":2,"v":6},{"r":34,"c":3,"v":6.5},{"r":34,"c":4,"v":2.5},{"r":34,"c":5,"v":6},{"r":34,"c":6,"v":5},{"r":34,"c":7,"v":3},{"r":34,"c":8,"v":7},{"r":34,"c":9,"v":6.5},{"r":34,"c":10,"v":7.5},{"r":34,"c":11,"v":10.8},{"r":34,"c":12,"v":9.5},{"r":34,"c":13,"v":9},{"r":34,"c":14,"v":8.5},
{"r":35,"c":1,"v":4},{"r":35,"c":2,"v":5.5},{"r":35,"c":3,"v":4},{"r":35,"c":4,"v":2.5},{"r":35,"c":5,"v":6.5},{"r":35,"c":6,"v":4.5},{"r":35,"c":7,"v":4},{"r":35,"c":8,"v":7.5},{"r":35,"c":9,"v":7},{"r":35,"c":10,"v":7.5},{"r":35,"c":11,"v":11.2},{"r":35,"c":12,"v":9},{"r":35,"c":13,"v":6.5},{"r":35,"c":14,"v":9},
{"r":36,"c":1,"v":3.5},{"r":36,"c":2,"v":4.5},{"r":36,"c":3,"v":2.5},{"r":36,"c":4,"v":2.5},{"r":36,"c":5,"v":3.5},{"r":36,"c":6,"v":3.5},{"r":36,"c":7,"v":3.5},{"r":36,"c":8,"v":4},{"r":36,"c":9,"v":5.5},{"r":36,"c":10,"v":8.5},{"r":36,"c":11,"v":8.5},{"r":36,"c":12,"v":8},{"r":36,"c":13,"v":6.5},{"r":36,"c":14,"v":8.5},
{"r":37,"c":1,"v":3.5},{"r":37,"c":2,"v":4},{"r":37,"c":3,"v":3},{"r":37,"c":4,"v":3},{"r":37,"c":5,"v":3},{"r":37,"c":6,"v":4.5},{"r":37,"c":7,"v":3},{"r":37,"c":8,"v":4.5},{"r":37,"c":9,"v":4},{"r":37,"c":10,"v":8.5},{"r":37,"c":11,"v":8.5},{"r":37,"c":12,"v":6.5},{"r":37,"c":13,"v":9},{"r":37,"c":14,"v":9.5},
{"r":38,"c":1,"v":3.5},{"r":38,"c":2,"v":5.5},{"r":38,"c":3,"v":3},{"r":38,"c":4,"v":3.5},{"r":38,"c":5,"v":5},{"r":38,"c":6,"v":6.5},{"r":38,"c":7,"v":5.5},{"r":38,"c":8,"v":5.5},{"r":38,"c":9,"v":7.5},{"r":38,"c":10,"v":9},{"r":38,"c":11,"v":9},{"r":38,"c":12,"v":6.5},{"r":38,"c":13,"v":4.5},{"r":38,"c":14,"v":10},
{"r":39,"c":1,"v":2.5},{"r":39,"c":2,"v":2.5},{"r":39,"c":3,"v":3},{"r":39,"c":4,"v":2.5},{"r":39,"c":5,"v":4},{"r":39,"c":6,"v":6},{"r":39,"c":7,"v":7.5},{"r":39,"c":8,"v":4.5},{"r":39,"c":9,"v":8},{"r":39,"c":10,"v":7.5},{"r":39,"c":11,"v":8.5},{"r":39,"c":12,"v":9},{"r":39,"c":13,"v":6},{"r":39,"c":14,"v":10},
{"r":40,"c":1,"v":1},{"r":40,"c":2,"v":2},{"r":40,"c":3,"v":2},{"r":40,"c":4,"v":2.5},{"r":40,"c":5,"v":2.5},{"r":40,"c":6,"v":2.5},{"r":40,"c":7,"v":7.5},{"r":40,"c":8,"v":5},{"r":40,"c":9,"v":4.5},{"r":40,"c":10,"v":5.5},{"r":40,"c":11,"v":8.5},{"r":40,"c":12,"v":9.5},{"r":40,"c":13,"v":8.5},{"r":40,"c":14,"v":7.5},
{"r":41,"c":1,"v":5},{"r":41,"c":2,"v":6},{"r":41,"c":3,"v":5.5},{"r":41,"c":4,"v":4.5},{"r":41,"c":5,"v":4.5},{"r":41,"c":6,"v":6.5},{"r":41,"c":7,"v":6},{"r":41,"c":8,"v":6},{"r":41,"c":9,"v":8.3},{"r":41,"c":10,"v":8.5},{"r":41,"c":11,"v":8.5},{"r":41,"c":12,"v":8.5},{"r":41,"c":13,"v":7},{"r":41,"c":14,"v":7},
{"r":42,"c":1,"v":5.5},{"r":42,"c":2,"v":7},{"r":42,"c":3,"v":4},{"r":42,"c":4,"v":7.5},{"r":42,"c":5,"v":5},{"r":42,"c":6,"v":5.5},{"r":42,"c":7,"v":6.5},{"r":42,"c":8,"v":6.8},{"r":42,"c":9,"v":7.5},{"r":42,"c":10,"v":8.5},{"r":42,"c":11,"v":9},{"r":42,"c":12,"v":8.2},{"r":42,"c":13,"v":7},{"r":42,"c":14,"v":8.3},
{"r":43,"c":1,"v":3},{"r":43,"c":2,"v":4.5},{"r":43,"c":3,"v":5.5},{"r":43,"c":4,"v":3.5},{"r":43,"c":5,"v":5.5},{"r":43,"c":6,"v":4.5},{"r":43,"c":7,"v":6.5},{"r":43,"c":8,"v":7},{"r":43,"c":9,"v":6.5},{"r":43,"c":10,"v":9},{"r":43,"c":11,"v":9},{"r":43,"c":12,"v":8.5},{"r":43,"c":13,"v":9},{"r":43,"c":14,"v":10.3},
{"r":44,"c":1,"v":6},{"r":44,"c":2,"v":3.5},{"r":44,"c":3,"v":4.2},{"r":44,"c":4,"v":4.2},{"r":44,"c":5,"v":5.5},{"r":44,"c":6,"v":5.5},{"r":44,"c":7,"v":5},{"r":44,"c":8,"v":8},{"r":44,"c":9,"v":6},{"r":44,"c":10,"v":8.2},{"r":44,"c":11,"v":8.5},{"r":44,"c":12,"v":9},{"r":44,"c":13,"v":8.5},{"r":44,"c":14,"v":10.5},
{"r":45,"c":1,"v":5},{"r":45,"c":2,"v":3},{"r":45,"c":3,"v":5},{"r":45,"c":4,"v":2.8},{"r":45,"c":5,"v":4},{"r":45,"c":6,"v":4.5},{"r":45,"c":7,"v":6},{"r":45,"c":8,"v":7.3},{"r":45,"c":9,"v":5.3},{"r":45,"c":10,"v":7.5},{"r":45,"c":11,"v":9},{"r":45,"c":12,"v":7.5},{"r":45,"c":13,"v":9},{"r":45,"c":14,"v":10.7},
{"r":46,"c":1,"v":5},{"r":46,"c":2,"v":6},{"r":46,"c":3,"v":4.5},{"r":46,"c":4,"v":3.5},{"r":46,"c":5,"v":4},{"r":46,"c":6,"v":4},{"r":46,"c":7,"v":3.8},{"r":46,"c":8,"v":7.7},{"r":46,"c":9,"v":6.2},{"r":46,"c":10,"v":8.7},{"r":46,"c":11,"v":9.5},{"r":46,"c":12,"v":9.5},{"r":46,"c":13,"v":11},{"r":46,"c":14,"v":11.8},
{"r":47,"c":1,"v":3},{"r":47,"c":2,"v":1},{"r":47,"c":3,"v":1},{"r":47,"c":4,"v":2.8},{"r":47,"c":5,"v":3.5},{"r":47,"c":6,"v":5},{"r":47,"c":7,"v":5.5},{"r":47,"c":8,"v":3.5},{"r":47,"c":9,"v":7},{"r":47,"c":10,"v":9.5},{"r":47,"c":11,"v":12},{"r":47,"c":12,"v":10.5},{"r":47,"c":13,"v":11.3},{"r":47,"c":14,"v":11.5},
{"r":48,"c":1,"v":4},{"r":48,"c":2,"v":3.3},{"r":48,"c":3,"v":2.8},{"r":48,"c":4,"v":2.8},{"r":48,"c":5,"v":7},{"r":48,"c":6,"v":5.5},{"r":48,"c":7,"v":5.5},{"r":48,"c":8,"v":5},{"r":48,"c":9,"v":5},{"r":48,"c":10,"v":11},{"r":48,"c":11,"v":10},{"r":48,"c":12,"v":8.7},{"r":48,"c":13,"v":10.5},{"r":48,"c":14,"v":11.2},
{"r":49,"c":1,"v":6.8},{"r":49,"c":2,"v":5.3},{"r":49,"c":3,"v":3.8},{"r":49,"c":4,"v":3.3},{"r":49,"c":5,"v":7.5},{"r":49,"c":6,"v":4.5},{"r":49,"c":7,"v":5},{"r":49,"c":8,"v":7.8},{"r":49,"c":9,"v":5},{"r":49,"c":10,"v":9.7},{"r":49,"c":11,"v":9},{"r":49,"c":12,"v":8.8},{"r":49,"c":13,"v":9.7},{"r":49,"c":14,"v":9},
{"r":50,"c":1,"v":5},{"r":50,"c":2,"v":5.5},{"r":50,"c":3,"v":6},{"r":50,"c":4,"v":6},{"r":50,"c":5,"v":6.5},{"r":50,"c":6,"v":4.8},{"r":50,"c":7,"v":5.3},{"r":50,"c":8,"v":7.8},{"r":50,"c":9,"v":6},{"r":50,"c":10,"v":9.7},{"r":50,"c":11,"v":8.5},{"r":50,"c":12,"v":6.5},{"r":50,"c":13,"v":7.5},{"r":50,"c":14,"v":7.5},
{"r":51,"c":1,"v":5.7},{"r":51,"c":2,"v":6.3},{"r":51,"c":3,"v":5.7},{"r":51,"c":4,"v":5.5},{"r":51,"c":5,"v":7},{"r":51,"c":6,"v":5.5},{"r":51,"c":7,"v":4.8},{"r":51,"c":8,"v":9},{"r":51,"c":9,"v":7.5},{"r":51,"c":10,"v":8.5},{"r":51,"c":11,"v":9},{"r":51,"c":12,"v":9.3},{"r":51,"c":13,"v":8.7},{"r":51,"c":14,"v":6},
{"r":52,"c":1,"v":4.5},{"r":52,"c":2,"v":5},{"r":52,"c":3,"v":2.8},{"r":52,"c":4,"v":3.8},{"r":52,"c":5,"v":6.7},{"r":52,"c":6,"v":5.5},{"r":52,"c":7,"v":7.5},{"r":52,"c":8,"v":10.2},{"r":52,"c":9,"v":10.2},{"r":52,"c":10,"v":6.8},{"r":52,"c":11,"v":9},{"r":52,"c":12,"v":10.3},{"r":52,"c":13,"v":9.5},{"r":52,"c":14,"v":7},
{"r":53,"c":1,"v":5.5},{"r":53,"c":2,"v":6.3},{"r":53,"c":3,"v":5},{"r":53,"c":4,"v":5.2},{"r":53,"c":5,"v":6.7},{"r":53,"c":6,"v":5.2},{"r":53,"c":7,"v":5.2},{"r":53,"c":8,"v":8},{"r":53,"c":9,"v":6.3},{"r":53,"c":10,"v":7},{"r":53,"c":11,"v":9},{"r":53,"c":12,"v":10},{"r":53,"c":13,"v":8.7},{"r":53,"c":14,"v":7.3},
{"r":54,"c":1,"v":5.5},{"r":54,"c":2,"v":3.8},{"r":54,"c":3,"v":1.8},{"r":54,"c":4,"v":3},{"r":54,"c":5,"v":4.8},{"r":54,"c":6,"v":5.3},{"r":54,"c":7,"v":5.3},{"r":54,"c":8,"v":7.8},{"r":54,"c":9,"v":8.5},{"r":54,"c":10,"v":6},{"r":54,"c":11,"v":9.3},{"r":54,"c":12,"v":12},{"r":54,"c":13,"v":10.3},{"r":54,"c":14,"v":8.5},
{"r":55,"c":1,"v":4},{"r":55,"c":2,"v":4},{"r":55,"c":3,"v":2.8},{"r":55,"c":4,"v":3.8},{"r":55,"c":5,"v":6},{"r":55,"c":6,"v":5.7},{"r":55,"c":7,"v":5.5},{"r":55,"c":8,"v":10},{"r":55,"c":9,"v":6.3},{"r":55,"c":10,"v":7.3},{"r":55,"c":11,"v":11},{"r":55,"c":12,"v":10.3},{"r":55,"c":13,"v":8.5},{"r":55,"c":14,"v":11.7},
{"r":56,"c":1,"v":4.3},{"r":56,"c":2,"v":3.8},{"r":56,"c":3,"v":5},{"r":56,"c":4,"v":3.8},{"r":56,"c":5,"v":7.5},{"r":56,"c":6,"v":6},{"r":56,"c":7,"v":8.3},{"r":56,"c":8,"v":9},{"r":56,"c":9,"v":8},{"r":56,"c":10,"v":7},{"r":56,"c":11,"v":11.6},{"r":56,"c":12,"v":10.5},{"r":56,"c":13,"v":8},{"r":56,"c":14,"v":10.8},
{"r":57,"c":1,"v":6.5},{"r":57,"c":2,"v":5},{"r":57,"c":3,"v":5},{"r":57,"c":4,"v":5.7},{"r":57,"c":5,"v":6.7},{"r":57,"c":6,"v":6},{"r":57,"c":7,"v":7.5},{"r":57,"c":8,"v":9},{"r":57,"c":9,"v":9},{"r":57,"c":10,"v":7},{"r":57,"c":11,"v":11},{"r":57,"c":12,"v":6.3},{"r":57,"c":13,"v":9},{"r":57,"c":14,"v":10.8},
{"r":58,"c":1,"v":6.3},{"r":58,"c":2,"v":6.3},{"r":58,"c":3,"v":5.8},{"r":58,"c":4,"v":2.8},{"r":58,"c":5,"v":6.8},{"r":58,"c":6,"v":5.8},{"r":58,"c":7,"v":6},{"r":58,"c":8,"v":8.5},{"r":58,"c":9,"v":8},{"r":58,"c":10,"v":8.7},{"r":58,"c":11,"v":10.3},{"r":58,"c":12,"v":6.7},{"r":58,"c":13,"v":9},{"r":58,"c":14,"v":10},
{"r":59,"c":1,"v":4.5},{"r":59,"c":2,"v":5},{"r":59,"c":3,"v":3.5},{"r":59,"c":4,"v":4.8},{"r":59,"c":5,"v":7.5},{"r":59,"c":6,"v":7.5},{"r":59,"c":7,"v":7},{"r":59,"c":8,"v":6.7},{"r":59,"c":9,"v":10},{"r":59,"c":10,"v":8.5},{"r":59,"c":11,"v":10},{"r":59,"c":12,"v":8.3},{"r":59,"c":13,"v":9.5},{"r":59,"c":14,"v":8.7},
{"r":60,"c":1,"v":3.8},{"r":60,"c":2,"v":5.3},{"r":60,"c":3,"v":3.5},{"r":60,"c":4,"v":4},{"r":60,"c":5,"v":7.5},{"r":60,"c":6,"v":6.3},{"r":60,"c":7,"v":7},{"r":60,"c":8,"v":5},{"r":60,"c":9,"v":9.3},{"r":60,"c":10,"v":10.7},{"r":60,"c":11,"v":10},{"r":60,"c":12,"v":8},{"r":60,"c":13,"v":8.3},{"r":60,"c":14,"v":10.5},
{"r":61,"c":1,"v":6.7},{"r":61,"c":2,"v":5.5},{"r":61,"c":3,"v":5},{"r":61,"c":4,"v":6.3},{"r":61,"c":5,"v":6.3},{"r":61,"c":6,"v":7.5},{"r":61,"c":7,"v":9},{"r":61,"c":8,"v":8.7},{"r":61,"c":9,"v":10.2},{"r":61,"c":10,"v":10.8},{"r":61,"c":11,"v":9},{"r":61,"c":12,"v":10.4},{"r":61,"c":13,"v":8.5},{"r":61,"c":14,"v":9},
{"r":62,"c":1,"v":7},{"r":62,"c":2,"v":5.7},{"r":62,"c":3,"v":5},{"r":62,"c":4,"v":7.3},{"r":62,"c":5,"v":7.2},{"r":62,"c":6,"v":6.7},{"r":62,"c":7,"v":7.5},{"r":62,"c":8,"v":8},{"r":62,"c":9,"v":9},{"r":62,"c":10,"v":9.5},{"r":62,"c":11,"v":8},{"r":62,"c":12,"v":9},{"r":62,"c":13,"v":8.5},{"r":62,"c":14,"v":8},
{"r":63,"c":1,"v":2.3},{"r":63,"c":2,"v":2.7},{"r":63,"c":3,"v":2.8},{"r":63,"c":4,"v":4},{"r":63,"c":5,"v":7},{"r":63,"c":6,"v":4.3},{"r":63,"c":7,"v":8},{"r":63,"c":8,"v":7.5},{"r":63,"c":9,"v":11},{"r":63,"c":10,"v":11.7},{"r":63,"c":11,"v":8.2},{"r":63,"c":12,"v":11.8},{"r":63,"c":13,"v":6.8},{"r":63,"c":14,"v":8.5},
{"r":64,"c":1,"v":5.7},{"r":64,"c":2,"v":3.7},{"r":64,"c":3,"v":6.5},{"r":64,"c":4,"v":5.2},{"r":64,"c":5,"v":8.5},{"r":64,"c":6,"v":6.3},{"r":64,"c":7,"v":5.5},{"r":64,"c":8,"v":8.7},{"r":64,"c":9,"v":8.3},{"r":64,"c":10,"v":9.5},{"r":64,"c":11,"v":8.5},{"r":64,"c":12,"v":9},{"r":64,"c":13,"v":8.7},{"r":64,"c":14,"v":8.3},
{"r":65,"c":1,"v":4.3},{"r":65,"c":2,"v":3.7},{"r":65,"c":3,"v":5.3},{"r":65,"c":4,"v":3.2},{"r":65,"c":5,"v":6},{"r":65,"c":6,"v":4.8},{"r":65,"c":7,"v":9.5},{"r":65,"c":8,"v":7.7},{"r":65,"c":9,"v":8.7},{"r":65,"c":10,"v":9},{"r":65,"c":11,"v":8.4},{"r":65,"c":12,"v":10.7},{"r":65,"c":13,"v":9},{"r":65,"c":14,"v":11.3},
{"r":66,"c":1,"v":5},{"r":66,"c":2,"v":2.5},{"r":66,"c":3,"v":4},{"r":66,"c":4,"v":3},{"r":66,"c":5,"v":4},{"r":66,"c":6,"v":1.8},{"r":66,"c":7,"v":5.8},{"r":66,"c":8,"v":8.7},{"r":66,"c":9,"v":9},{"r":66,"c":10,"v":5},{"r":66,"c":11,"v":7},{"r":66,"c":12,"v":11.8},{"r":66,"c":13,"v":8},{"r":66,"c":14,"v":10.6},
{"r":67,"c":1,"v":7},{"r":67,"c":2,"v":7.2},{"r":67,"c":3,"v":8.5},{"r":67,"c":4,"v":7.5},{"r":67,"c":5,"v":5.7},{"r":67,"c":6,"v":5},{"r":67,"c":7,"v":7},{"r":67,"c":8,"v":9.3},{"r":67,"c":9,"v":9.6},{"r":67,"c":10,"v":9},{"r":67,"c":11,"v":9.6},{"r":67,"c":12,"v":9},{"r":67,"c":13,"v":10.3},{"r":67,"c":14,"v":8.3},
{"r":68,"c":1,"v":6.8},{"r":68,"c":2,"v":6.8},{"r":68,"c":3,"v":5.3},{"r":68,"c":4,"v":5.7},{"r":68,"c":5,"v":6},{"r":68,"c":6,"v":5.3},{"r":68,"c":7,"v":6},{"r":68,"c":8,"v":7.5},{"r":68,"c":9,"v":9},{"r":68,"c":10,"v":8},{"r":68,"c":11,"v":9.2},{"r":68,"c":12,"v":8.5},{"r":68,"c":13,"v":9.8},{"r":68,"c":14,"v":9.5},
{"r":69,"c":1,"v":6.3},{"r":69,"c":2,"v":6.2},{"r":69,"c":3,"v":7.2},{"r":69,"c":4,"v":6},{"r":69,"c":5,"v":7.3},{"r":69,"c":6,"v":6.5},{"r":69,"c":7,"v":7.5},{"r":69,"c":8,"v":8.3},{"r":69,"c":9,"v":9},{"r":69,"c":10,"v":7.6},{"r":69,"c":11,"v":10.3},{"r":69,"c":12,"v":9},{"r":69,"c":13,"v":9.6},{"r":69,"c":14,"v":9.5},
{"r":70,"c":1,"v":8.8},{"r":70,"c":2,"v":6.3},{"r":70,"c":3,"v":6.2},{"r":70,"c":4,"v":6.5},{"r":70,"c":5,"v":5.2},{"r":70,"c":6,"v":7.8},{"r":70,"c":7,"v":8.8},{"r":70,"c":8,"v":10},{"r":70,"c":9,"v":10},{"r":70,"c":10,"v":10.5},{"r":70,"c":11,"v":9.8},{"r":70,"c":12,"v":8},{"r":70,"c":13,"v":9.2},{"r":70,"c":14,"v":10.3},
{"r":71,"c":1,"v":9},{"r":71,"c":2,"v":7.3},{"r":71,"c":3,"v":4.8},{"r":71,"c":4,"v":5.7},{"r":71,"c":5,"v":7.5},{"r":71,"c":6,"v":6.8},{"r":71,"c":7,"v":9.5},{"r":71,"c":8,"v":9.9},{"r":71,"c":9,"v":11.2},{"r":71,"c":10,"v":10.7},{"r":71,"c":11,"v":8.8},{"r":71,"c":12,"v":9.8},{"r":71,"c":13,"v":9.5},{"r":71,"c":14,"v":8.8},
{"r":72,"c":1,"v":6.8},{"r":72,"c":2,"v":6.8},{"r":72,"c":3,"v":8.3},{"r":72,"c":4,"v":6},{"r":72,"c":5,"v":5.8},{"r":72,"c":6,"v":7.4},{"r":72,"c":7,"v":9.4},{"r":72,"c":8,"v":9.4},{"r":72,"c":9,"v":10.4},{"r":72,"c":10,"v":8.2},{"r":72,"c":11,"v":8.4},{"r":72,"c":12,"v":9.9},{"r":72,"c":13,"v":9.5},{"r":72,"c":14,"v":10},
{"r":73,"c":1,"v":7.2},{"r":73,"c":2,"v":6.2},{"r":73,"c":3,"v":6.8},{"r":73,"c":4,"v":7.3},{"r":73,"c":5,"v":6.2},{"r":73,"c":6,"v":8.2},{"r":73,"c":7,"v":8.3},{"r":73,"c":8,"v":10},{"r":73,"c":9,"v":8.7},{"r":73,"c":10,"v":8},{"r":73,"c":11,"v":9.5},{"r":73,"c":12,"v":8.7},{"r":73,"c":13,"v":8.7},{"r":73,"c":14,"v":8.5},
{"r":74,"c":1,"v":6},{"r":74,"c":2,"v":6},{"r":74,"c":3,"v":6.3},{"r":74,"c":4,"v":8.3},{"r":74,"c":5,"v":5.3},{"r":74,"c":6,"v":7.2},{"r":74,"c":7,"v":8.3},{"r":74,"c":8,"v":9.7},{"r":74,"c":9,"v":10},{"r":74,"c":10,"v":8.5},{"r":74,"c":11,"v":9.8},{"r":74,"c":12,"v":8.5},{"r":74,"c":13,"v":9.3},{"r":74,"c":14,"v":7},
{"r":75,"c":1,"v":5.5},{"r":75,"c":2,"v":5.8},{"r":75,"c":3,"v":6},{"r":75,"c":4,"v":4},{"r":75,"c":5,"v":2.8},{"r":75,"c":6,"v":4.2},{"r":75,"c":7,"v":8.5},{"r":75,"c":8,"v":9.5},{"r":75,"c":9,"v":7.5},{"r":75,"c":10,"v":9},{"r":75,"c":11,"v":10.7},{"r":75,"c":12,"v":11.2},{"r":75,"c":13,"v":10.4},{"r":75,"c":14,"v":10.2},
{"r":76,"c":1,"v":7.5},{"r":76,"c":2,"v":4.8},{"r":76,"c":3,"v":7.8},{"r":76,"c":4,"v":7},{"r":76,"c":5,"v":4.3},{"r":76,"c":6,"v":5.2},{"r":76,"c":7,"v":8.2},{"r":76,"c":8,"v":8.9},{"r":76,"c":9,"v":7.5},{"r":76,"c":10,"v":9},{"r":76,"c":11,"v":11.3},{"r":76,"c":12,"v":11},{"r":76,"c":13,"v":9.6},{"r":76,"c":14,"v":8.7},
{"r":77,"c":1,"v":6.7},{"r":77,"c":2,"v":7.3},{"r":77,"c":3,"v":7.2},{"r":77,"c":4,"v":5.7},{"r":77,"c":5,"v":5.6},{"r":77,"c":6,"v":5.2},{"r":77,"c":7,"v":6.2},{"r":77,"c":8,"v":8.7},{"r":77,"c":9,"v":6.5},{"r":77,"c":10,"v":7.5},{"r":77,"c":11,"v":8.8},{"r":77,"c":12,"v":9.4},{"r":77,"c":13,"v":8.2},{"r":77,"c":14,"v":8.2},
{"r":78,"c":1,"v":6.7},{"r":78,"c":2,"v":7.2},{"r":78,"c":3,"v":6.4},{"r":78,"c":4,"v":7.3},{"r":78,"c":5,"v":4.6},{"r":78,"c":6,"v":7.3},{"r":78,"c":7,"v":8},{"r":78,"c":8,"v":9.2},{"r":78,"c":9,"v":8.4},{"r":78,"c":10,"v":10.3},{"r":78,"c":11,"v":9.2},{"r":78,"c":12,"v":11.2},{"r":78,"c":13,"v":7.5},{"r":78,"c":14,"v":9},
{"r":79,"c":1,"v":10},{"r":79,"c":2,"v":10.4},{"r":79,"c":3,"v":11},{"r":79,"c":4,"v":9.3},{"r":79,"c":5,"v":8.7},{"r":79,"c":6,"v":10.8},{"r":79,"c":7,"v":11.3},{"r":79,"c":8,"v":9.3},{"r":79,"c":9,"v":8.3},{"r":79,"c":10,"v":5.2},{"r":79,"c":11,"v":4},{"r":79,"c":12,"v":5.5},{"r":79,"c":13,"v":5.7},{"r":79,"c":14,"v":6.2},
{"r":80,"c":1,"v":8.8},{"r":80,"c":2,"v":12},{"r":80,"c":3,"v":12},{"r":80,"c":4,"v":10.5},{"r":80,"c":5,"v":10.6},{"r":80,"c":6,"v":10.7},{"r":80,"c":7,"v":12},{"r":80,"c":8,"v":11.5},{"r":80,"c":9,"v":7.6},{"r":80,"c":10,"v":1},{"r":80,"c":11,"v":2.5},{"r":80,"c":12,"v":5.3},{"r":80,"c":13,"v":3.5},{"r":80,"c":14,"v":3.5},
{"r":81,"c":1,"v":9.7},{"r":81,"c":2,"v":9.6},{"r":81,"c":3,"v":10.8},{"r":81,"c":4,"v":9.3},{"r":81,"c":5,"v":8.3},{"r":81,"c":6,"v":8.3},{"r":81,"c":7,"v":9},{"r":81,"c":8,"v":8.6},{"r":81,"c":9,"v":7.2},{"r":81,"c":10,"v":4.3},{"r":81,"c":11,"v":3.8},{"r":81,"c":12,"v":5},{"r":81,"c":13,"v":3.8},{"r":81,"c":14,"v":7},
{"r":82,"c":1,"v":10.4},{"r":82,"c":2,"v":12},{"r":82,"c":3,"v":10.7},{"r":82,"c":4,"v":9.8},{"r":82,"c":5,"v":8.2},{"r":82,"c":6,"v":9.5},{"r":82,"c":7,"v":9.8},{"r":82,"c":8,"v":8.5},{"r":82,"c":9,"v":7.2},{"r":82,"c":10,"v":3},{"r":82,"c":11,"v":4.5},{"r":82,"c":12,"v":5.2},{"r":82,"c":13,"v":3.5},{"r":82,"c":14,"v":7},
{"r":83,"c":1,"v":9},{"r":83,"c":2,"v":10.5},{"r":83,"c":3,"v":8.6},{"r":83,"c":4,"v":9.8},{"r":83,"c":5,"v":8.4},{"r":83,"c":6,"v":8.3},{"r":83,"c":7,"v":9.2},{"r":83,"c":8,"v":7.6},{"r":83,"c":9,"v":7},{"r":83,"c":10,"v":3},{"r":83,"c":11,"v":6},{"r":83,"c":12,"v":5.3},{"r":83,"c":13,"v":4.5},{"r":83,"c":14,"v":8.4},
{"r":84,"c":1,"v":9.6},{"r":84,"c":2,"v":10.6},{"r":84,"c":3,"v":9.2},{"r":84,"c":4,"v":10.2},{"r":84,"c":5,"v":6.5},{"r":84,"c":6,"v":9.3},{"r":84,"c":7,"v":9.8},{"r":84,"c":8,"v":9},{"r":84,"c":9,"v":8},{"r":84,"c":10,"v":5.2},{"r":84,"c":11,"v":4},{"r":84,"c":12,"v":5.3},{"r":84,"c":13,"v":6.7},{"r":84,"c":14,"v":7.6},
{"r":85,"c":1,"v":11.3},{"r":85,"c":2,"v":11},{"r":85,"c":3,"v":11.3},{"r":85,"c":4,"v":10.7},{"r":85,"c":5,"v":9.2},{"r":85,"c":6,"v":6.8},{"r":85,"c":7,"v":10.9},{"r":85,"c":8,"v":9.6},{"r":85,"c":9,"v":5.9},{"r":85,"c":10,"v":5},{"r":85,"c":11,"v":7.3},{"r":85,"c":12,"v":8.6},{"r":85,"c":13,"v":6.6},{"r":85,"c":14,"v":7.2},
{"r":86,"c":1,"v":11.8},{"r":86,"c":2,"v":12},{"r":86,"c":3,"v":12},{"r":86,"c":4,"v":12},{"r":86,"c":5,"v":12},{"r":86,"c":6,"v":6.8},{"r":86,"c":7,"v":11.9},{"r":86,"c":8,"v":11.9},{"r":86,"c":9,"v":2.5},{"r":86,"c":10,"v":8},{"r":86,"c":11,"v":6.3},{"r":86,"c":12,"v":4.3},{"r":86,"c":13,"v":2.3},{"r":86,"c":14,"v":2.7},
{"r":87,"c":1,"v":8.2},{"r":87,"c":2,"v":7.7},{"r":87,"c":3,"v":8.2},{"r":87,"c":4,"v":8.7},{"r":87,"c":5,"v":8.2},{"r":87,"c":6,"v":8.7},{"r":87,"c":7,"v":9},{"r":87,"c":8,"v":7.5},{"r":87,"c":9,"v":7},{"r":87,"c":10,"v":6.2},{"r":87,"c":11,"v":7},{"r":87,"c":12,"v":6.3},{"r":87,"c":13,"v":6.7},{"r":87,"c":14,"v":6.2},
{"r":88,"c":1,"v":10.6},{"r":88,"c":2,"v":9.8},{"r":88,"c":3,"v":10.4},{"r":88,"c":4,"v":9.8},{"r":88,"c":5,"v":8.6},{"r":88,"c":6,"v":8.2},{"r":88,"c":7,"v":9.8},{"r":88,"c":8,"v":7.5},{"r":88,"c":9,"v":9.4},{"r":88,"c":10,"v":6.5},{"r":88,"c":11,"v":7},{"r":88,"c":12,"v":7.7},{"r":88,"c":13,"v":7.2},{"r":88,"c":14,"v":5.4},
{"r":89,"c":1,"v":11.9},{"r":89,"c":2,"v":8.2},{"r":89,"c":3,"v":9.7},{"r":89,"c":4,"v":9.4},{"r":89,"c":5,"v":10.3},{"r":89,"c":6,"v":9.7},{"r":89,"c":7,"v":11.2},{"r":89,"c":8,"v":7.5},{"r":89,"c":9,"v":9.6},{"r":89,"c":10,"v":8.5},{"r":89,"c":11,"v":5.3},{"r":89,"c":12,"v":4.7},{"r":89,"c":13,"v":6.5},{"r":89,"c":14,"v":7.2},
{"r":90,"c":1,"v":8.8},{"r":90,"c":2,"v":8.8},{"r":90,"c":3,"v":9.7},{"r":90,"c":4,"v":9.2},{"r":90,"c":5,"v":8.2},{"r":90,"c":6,"v":9},{"r":90,"c":7,"v":7.3},{"r":90,"c":8,"v":7.5},{"r":90,"c":9,"v":7.6},{"r":90,"c":10,"v":5.5},{"r":90,"c":11,"v":7},{"r":90,"c":12,"v":6.6},{"r":90,"c":13,"v":7.7},{"r":90,"c":14,"v":4.8},
{"r":91,"c":1,"v":8.9},{"r":91,"c":2,"v":8},{"r":91,"c":3,"v":8.3},{"r":91,"c":4,"v":8.7},{"r":91,"c":5,"v":8.8},{"r":91,"c":6,"v":9.2},{"r":91,"c":7,"v":7.5},{"r":91,"c":8,"v":8.4},{"r":91,"c":9,"v":7},{"r":91,"c":10,"v":6.7},{"r":91,"c":11,"v":6.7},{"r":91,"c":12,"v":6.6},{"r":91,"c":13,"v":7.3},{"r":91,"c":14,"v":6},
{"r":92,"c":1,"v":8.1},{"r":92,"c":2,"v":8.6},{"r":92,"c":3,"v":7.7},{"r":92,"c":4,"v":9},{"r":92,"c":5,"v":8},{"r":92,"c":6,"v":9},{"r":92,"c":7,"v":7.5},{"r":92,"c":8,"v":8},{"r":92,"c":9,"v":6.4},{"r":92,"c":10,"v":6.8},{"r":92,"c":11,"v":6},{"r":92,"c":12,"v":7.2},{"r":92,"c":13,"v":6.7},{"r":92,"c":14,"v":6},
{"r":93,"c":1,"v":9},{"r":93,"c":2,"v":8.7},{"r":93,"c":3,"v":8.3},{"r":93,"c":4,"v":8.5},{"r":93,"c":5,"v":8.3},{"r":93,"c":6,"v":7},{"r":93,"c":7,"v":8},{"r":93,"c":8,"v":7.2},{"r":93,"c":9,"v":6.9},{"r":93,"c":10,"v":7},{"r":93,"c":11,"v":6.2},{"r":93,"c":12,"v":7.6},{"r":93,"c":13,"v":5.9},{"r":93,"c":14,"v":5.3},
{"r":94,"c":1,"v":9.4},{"r":94,"c":2,"v":9},{"r":94,"c":3,"v":8.2},{"r":94,"c":4,"v":8},{"r":94,"c":5,"v":7.4},{"r":94,"c":6,"v":8.7},{"r":94,"c":7,"v":8.6},{"r":94,"c":8,"v":7.5},{"r":94,"c":9,"v":7.7},{"r":94,"c":10,"v":5.4},{"r":94,"c":11,"v":5},{"r":94,"c":12,"v":6.7},{"r":94,"c":13,"v":7},{"r":94,"c":14,"v":4.2},
{"r":95,"c":1,"v":9.8},{"r":95,"c":2,"v":9.2},{"r":95,"c":3,"v":7.5},{"r":95,"c":4,"v":9.6},{"r":95,"c":5,"v":8.3},{"r":95,"c":6,"v":8.7},{"r":95,"c":7,"v":10},{"r":95,"c":8,"v":8.4},{"r":95,"c":9,"v":6},{"r":95,"c":10,"v":6},{"r":95,"c":11,"v":4.1},{"r":95,"c":12,"v":8},{"r":95,"c":13,"v":5},{"r":95,"c":14,"v":3.7},
{"r":96,"c":1,"v":8.7},{"r":96,"c":2,"v":9},{"r":96,"c":3,"v":8.7},{"r":96,"c":4,"v":10},{"r":96,"c":5,"v":9.6},{"r":96,"c":6,"v":8.8},{"r":96,"c":7,"v":9.2},{"r":96,"c":8,"v":6},{"r":96,"c":9,"v":7.6},{"r":96,"c":10,"v":9.3},{"r":96,"c":11,"v":4.7},{"r":96,"c":12,"v":6},{"r":96,"c":13,"v":3.2},{"r":96,"c":14,"v":7.2},
{"r":97,"c":1,"v":8.7},{"r":97,"c":2,"v":8.8},{"r":97,"c":3,"v":8.4},{"r":97,"c":4,"v":10.4},{"r":97,"c":5,"v":10.5},{"r":97,"c":6,"v":8.4},{"r":97,"c":7,"v":7.4},{"r":97,"c":8,"v":5.3},{"r":97,"c":9,"v":9},{"r":97,"c":10,"v":5.2},{"r":97,"c":11,"v":5.8},{"r":97,"c":12,"v":5.9},{"r":97,"c":13,"v":4.9},{"r":97,"c":14,"v":6.5},
{"r":98,"c":1,"v":8.6},{"r":98,"c":2,"v":9.8},{"r":98,"c":3,"v":8.6},{"r":98,"c":4,"v":5.3},{"r":98,"c":5,"v":9},{"r":98,"c":6,"v":9.4},{"r":98,"c":7,"v":7.4},{"r":98,"c":8,"v":5.1},{"r":98,"c":9,"v":6.2},{"r":98,"c":10,"v":5.3},{"r":98,"c":11,"v":5},{"r":98,"c":12,"v":5},{"r":98,"c":13,"v":4.9},{"r":98,"c":14,"v":4.9},
{"r":99,"c":1,"v":7},{"r":99,"c":2,"v":9.2},{"r":99,"c":3,"v":9},{"r":99,"c":4,"v":8.2},{"r":99,"c":5,"v":8.3},{"r":99,"c":6,"v":8.1},{"r":99,"c":7,"v":7.7},{"r":99,"c":8,"v":7.5},{"r":99,"c":9,"v":8.3},{"r":99,"c":10,"v":5.8},{"r":99,"c":11,"v":5.5},{"r":99,"c":12,"v":5.1},{"r":99,"c":13,"v":4.8},{"r":99,"c":14,"v":5.8},
{"r":100,"c":1,"v":4.8},{"r":100,"c":2,"v":7.7},{"r":100,"c":3,"v":10},{"r":100,"c":4,"v":11.7},{"r":100,"c":5,"v":9.3},{"r":100,"c":6,"v":5.4},{"r":100,"c":7,"v":10.2},{"r":100,"c":8,"v":6},{"r":100,"c":9,"v":4.3},{"r":100,"c":10,"v":2.4},{"r":100,"c":11,"v":2.4},{"r":100,"c":12,"v":2.3},{"r":100,"c":13,"v":2.7},{"r":100,"c":14,"v":7.5}
]},"resolve":{"scale":{"x":"independent","y":"independent","color":"independent","stroke":"independent"}},"config":{"view":{"stroke":null}},
"layer":[
{"data":{"name":"tree"},"mark":{"type":"rule","strokeWidth":3.4,"strokeCap":"square"},"encoding":{"x":{"field":"a","type":"quantitative","axis":null,"scale":{"domain":[0,600],"range":[0,600],"nice":false,"zero":false}},"y":{"field":"b","type":"quantitative","axis":null,"scale":{"domain":[0,1857],"range":[0,1857],"nice":false,"zero":false}},"x2":{"field":"p"},"y2":{"field":"q"},"color":{"field":"k","type":"nominal","legend":null,"scale":{"domain":["black","gray","orange","green","red","blue","yellow","purple"],"range":["#0a0a0a","#c4c0c0","#f9a000","#69b327","#e60012","#3b4595","#ffe600","#8f4596"]}}}},
{"data":{"name":"heat"},"mark":{"type":"rect","strokeWidth":0.5},"encoding":{"x":{"field":"c","type":"ordinal","axis":null,"scale":{"type":"band","range":[183.5,517],"paddingInner":0,"paddingOuter":0}},"y":{"field":"r","type":"ordinal","axis":null,"scale":{"type":"band","range":[246,1728],"paddingInner":0,"paddingOuter":0}},"color":{"field":"v","type":"quantitative","legend":null,"scale":{"type":"linear","interpolate":"rgb","domain":[0,1,2,3,4,5,6,7,7.5,8,9,10,11,11.9,12],"range":["#138b3c","#2f9537","#4aa232","#6bb02a","#8dbd1b","#b2cc00","#d8dc00","#f5e800","#ffe600","#ffd400","#fbb000","#f28a00","#ec5f00","#e5340c","#e60012"]}},"stroke":{"field":"v","type":"quantitative","legend":null,"scale":{"type":"linear","interpolate":"rgb","domain":[0,1,2,3,4,5,6,7,7.5,8,9,10,11,11.9,12],"range":["#138b3c","#2f9537","#4aa232","#6bb02a","#8dbd1b","#b2cc00","#d8dc00","#f5e800","#ffe600","#ffd400","#fbb000","#f28a00","#ec5f00","#e5340c","#e60012"]}}}},
{"data":{"name":"tree"},"transform":[{"filter":"datum.r>0"}],"mark":{"type":"rect","strokeWidth":0.6},"encoding":{"x":{"field":"t","type":"nominal","axis":null,"scale":{"type":"band","range":[548,600],"paddingInner":0,"paddingOuter":0}},"y":{"field":"r","type":"ordinal","axis":null,"scale":{"type":"band","range":[246,1728],"paddingInner":0,"paddingOuter":0}},"color":{"field":"k","type":"nominal","legend":null,"scale":{"domain":["black","gray","orange","green","red","blue","yellow","purple"],"range":["#0a0a0a","#c4c0c0","#f9a000","#69b327","#e60012","#3b4595","#ffe600","#8f4596"]}},"stroke":{"field":"k","type":"nominal","legend":null,"scale":{"domain":["black","gray","orange","green","red","blue","yellow","purple"],"range":["#0a0a0a","#c4c0c0","#f9a000","#69b327","#e60012","#3b4595","#ffe600","#8f4596"]}}}},
{"data":{"values":[{"a":183.5,"p":348.3,"b":1759,"q":1810.7,"k":"BRCA1(+)"},{"a":348.3,"p":517,"b":1759,"q":1810.7,"k":"sporadic"}]},"mark":{"type":"rect"},"encoding":{"x":{"field":"a","type":"quantitative","axis":null,"scale":{"domain":[0,600],"range":[0,600],"nice":false,"zero":false}},"x2":{"field":"p"},"y":{"field":"b","type":"quantitative","axis":null,"scale":{"domain":[0,1857],"range":[0,1857],"nice":false,"zero":false}},"y2":{"field":"q"},"color":{"field":"k","type":"nominal","legend":null,"scale":{"domain":["BRCA1(+)","sporadic"],"range":["#e60012","#3b4595"]}}}},
{"data":{"values":[{"a":183.5,"b":1847,"k":"BRCA1(+)"}]},"mark":{"type":"text","font":"Liberation Sans","fontWeight":"bold","fontSize":35.5,"align":"left","baseline":"alphabetic"},"encoding":{"x":{"field":"a","type":"quantitative","axis":null,"scale":{"domain":[0,600],"range":[0,600],"nice":false,"zero":false}},"y":{"field":"b","type":"quantitative","axis":null,"scale":{"domain":[0,1857],"range":[0,1857],"nice":false,"zero":false}},"text":{"field":"k"},"color":{"value":"#e60012"}}},
{"data":{"values":[{"a":361,"b":1847,"k":"sporadic"}]},"mark":{"type":"text","font":"Liberation Sans","fontWeight":"bold","fontSize":36.5,"align":"left","baseline":"alphabetic"},"encoding":{"x":{"field":"a","type":"quantitative","axis":null,"scale":{"domain":[0,600],"range":[0,600],"nice":false,"zero":false}},"y":{"field":"b","type":"quantitative","axis":null,"scale":{"domain":[0,1857],"range":[0,1857],"nice":false,"zero":false}},"text":{"field":"k"},"color":{"value":"#3b4595"}}}
]}
